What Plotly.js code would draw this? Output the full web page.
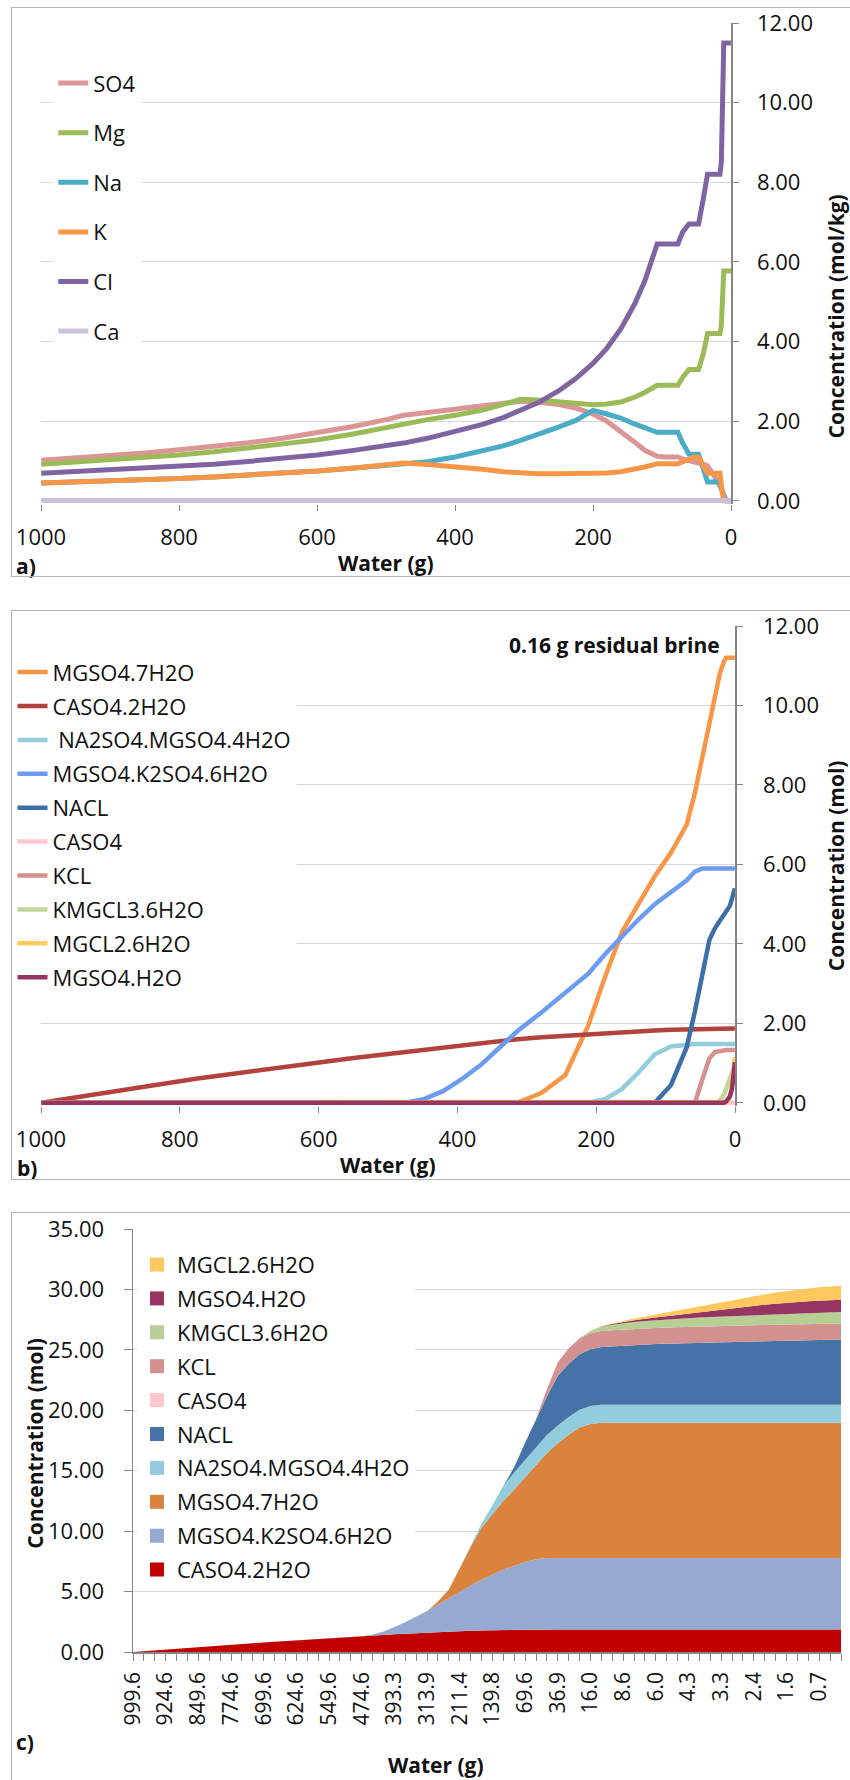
<!DOCTYPE html>
<html><head><meta charset="utf-8">
<script src="https://cdn.plot.ly/plotly-3.0.1.min.js"></script>
<style>
html,body{margin:0;padding:0;background:#fff;overflow:hidden;width:850px;height:1780px;position:relative}
.box{position:absolute;border:1px solid #b4b4b4;box-sizing:border-box;pointer-events:none;background:transparent}
.pl{position:absolute;left:0}
</style></head><body>
<div id="pa" class="pl" style="top:0"></div>
<div id="pb" class="pl" style="top:600px"></div>
<div id="pc" class="pl" style="top:1200px"></div>
<div class="box" style="left:11px;top:7px;width:900px;height:570px"></div>
<div class="box" style="left:11px;top:610px;width:900px;height:570px"></div>
<div class="box" style="left:11px;top:1212px;width:900px;height:700px"></div>
<script>
// ---------- Panel a data: concentration (mol/kg) vs water (g) ----------
const waterA = [999.6,949.6,899.6,849.6,799.6,749.6,699.6,649.6,599.6,549.6,499.6,474.6,
  440,400,360,330,305,280,250,225,200,
  180,160,140,125,107,95,77,
  70,61,54,47,40,34,25,
  16,14,10.5,7,4,2,0.16];
const so4A = [1.02,1.07,1.13,1.2,1.28,1.36,1.46,1.57,1.7,1.86,2.04,2.15,
  2.22,2.3,2.38,2.45,2.5,2.48,2.42,2.33,2.18,
  2.0,1.75,1.48,1.27,1.12,1.1,1.1,
  1.05,1.0,0.97,0.95,0.92,0.88,0.65,
  0.4,0.3,0.08,0,0,0,0];
const mgA = [0.92,0.97,1.02,1.08,1.15,1.23,1.32,1.42,1.53,1.67,1.84,1.94,
  2.04,2.15,2.28,2.42,2.55,2.53,2.49,2.45,2.41,
  2.43,2.48,2.6,2.72,2.9,2.9,2.9,
  3.1,3.3,3.3,3.3,3.7,4.2,4.2,
  4.2,4.4,5.77,5.77,5.77,5.77,5.77];
const naA = [0.45,0.47,0.5,0.53,0.56,0.6,0.64,0.69,0.75,0.82,0.9,0.95,
  0.98,1.1,1.25,1.38,1.52,1.66,1.85,2.02,2.27,
  2.18,2.08,1.93,1.82,1.72,1.72,1.72,
  1.45,1.17,1.17,1.17,0.8,0.47,0.47,
  0.47,0.3,0.1,0,0,0,0];
const kA = [0.45,0.47,0.5,0.53,0.56,0.6,0.64,0.69,0.75,0.82,0.9,0.95,
  0.91,0.86,0.79,0.73,0.69,0.68,0.68,0.68,0.68,
  0.7,0.73,0.79,0.85,0.93,0.93,0.93,
  0.98,1.06,1.09,1.1,0.9,0.69,0.69,
  0.69,0.4,0,0,0,0,0];
const clA = [0.69,0.73,0.77,0.81,0.86,0.92,0.99,1.06,1.15,1.26,1.38,1.45,
  1.57,1.73,1.92,2.09,2.26,2.46,2.76,3.07,3.45,
  3.83,4.31,4.93,5.52,6.45,6.45,6.45,
  6.75,6.95,6.95,6.95,7.6,8.2,8.2,
  8.2,8.5,11.5,11.5,11.5,11.5,11.5];
const caA = [0.01,0.01,0.01,0.01,0.01,0.01,0.01,0.01,0.01,0.01,0.01,0.01,
  0.01,0.01,0.01,0.01,0.01,0.01,0.01,0.01,0.01,
  0.01,0.01,0.01,0.01,0.01,0.01,0.01,
  0.01,0.01,0.01,0.01,0.01,0.01,0.01,
  0.01,0.01,0.01,0.01,0.01,0.01,0.01];
const ionNames = ['SO4','Mg','Na','K','Cl','Ca'];
const ionColors = ['#D99694','#9BBB59','#4BACC6','#F79646','#8064A2','#CCC1DA'];

// ---------- Panels b & c data: precipitated minerals (mol) vs water (g) ----------
const waterC = [999.6,974.6,949.6,924.6,899.6,874.6,849.6,824.6,799.6,774.6,
  749.6,724.6,699.6,674.6,649.6,624.6,599.6,574.6,549.6,524.6,
  499.6,474.6,447.3,420.2,393.3,366.5,340.0,313.9,278.6,244.5,
  211.4,186.7,162.8,139.8,115.6,92.2,69.6,57.8,46.9,36.9,
  28.8,21.9,16.0,12.9,10.4,8.6,7.7,6.8,6.0,5.4,
  4.8,4.3,3.9,3.6,3.3,3.0,2.7,2.4,2.1,1.8,
  1.6,1.3,1.0,0.7,0.4,0.16];
const caso4_2h2o = [0,0.07,0.14,0.21,0.28,0.35,0.42,0.49,0.55,0.61,
  0.67,0.73,0.79,0.85,0.91,0.97,1.03,1.08,1.13,1.18,
  1.23,1.28,1.34,1.40,1.46,1.51,1.56,1.60,1.65,1.69,
  1.73,1.76,1.78,1.80,1.82,1.84,1.85,1.86,1.87,1.87,
  1.87,1.87,1.87,1.87,1.87,1.87,1.87,1.87,1.87,1.87,
  1.87,1.87,1.87,1.87,1.87,1.87,1.87,1.87,1.87,1.87,
  1.87,1.87,1.87,1.87,1.87,1.87];
const mgso4_k2so4_6h2o = [0,0,0,0,0,0,0,0,0,0,
  0,0,0,0,0,0,0,0,0,0,
  0,0,0.1,0.3,0.6,0.95,1.38,1.8,2.28,2.78,
  3.25,3.75,4.2,4.6,5.0,5.3,5.6,5.82,5.9,5.9,
  5.9,5.9,5.9,5.9,5.9,5.9,5.9,5.9,5.9,5.9,
  5.9,5.9,5.9,5.9,5.9,5.9,5.9,5.9,5.9,5.9,
  5.9,5.9,5.9,5.9,5.9,5.9];
const mgso4_7h2o = [0,0,0,0,0,0,0,0,0,0,
  0,0,0,0,0,0,0,0,0,0,
  0,0,0,0,0,0,0,0,0.25,0.7,
  1.95,3.2,4.3,5.0,5.7,6.3,7.0,7.8,8.7,9.5,
  10.2,10.8,11.1,11.2,11.2,11.2,11.2,11.2,11.2,11.2,
  11.2,11.2,11.2,11.2,11.2,11.2,11.2,11.2,11.2,11.2,
  11.2,11.2,11.2,11.2,11.2,11.2];
const na2so4_mgso4_4h2o = [0,0,0,0,0,0,0,0,0,0,
  0,0,0,0,0,0,0,0,0,0,
  0,0,0,0,0,0,0,0,0,0,
  0,0.1,0.35,0.75,1.22,1.42,1.47,1.48,1.48,1.48,
  1.48,1.48,1.48,1.48,1.48,1.48,1.48,1.48,1.48,1.48,
  1.48,1.48,1.48,1.48,1.48,1.48,1.48,1.48,1.48,1.48,
  1.48,1.48,1.48,1.48,1.48,1.48];
const nacl = [0,0,0,0,0,0,0,0,0,0,
  0,0,0,0,0,0,0,0,0,0,
  0,0,0,0,0,0,0,0,0,0,
  0,0,0,0,0,0.45,1.4,2.3,3.2,4.1,
  4.4,4.58,4.7,4.78,4.84,4.9,4.95,4.99,5.03,5.06,
  5.09,5.12,5.15,5.17,5.19,5.21,5.23,5.25,5.27,5.29,
  5.31,5.33,5.35,5.37,5.39,5.4];
const caso4 = [0,0,0,0,0,0,0,0,0,0,
  0,0,0,0,0,0,0,0,0,0,
  0,0,0,0,0,0,0,0,0,0,
  0,0,0,0,0,0,0,0,0,0,
  0,0,0,0,0,0,0,0,0,0,
  0,0,0,0,0,0,0,0,0,0,
  0,0,0,0,0,0];
const kcl = [0,0,0,0,0,0,0,0,0,0,
  0,0,0,0,0,0,0,0,0,0,
  0,0,0,0,0,0,0,0,0,0,
  0,0,0,0,0,0,0,0,0.6,1.12,
  1.28,1.31,1.32,1.33,1.33,1.33,1.33,1.33,1.33,1.33,
  1.33,1.33,1.33,1.33,1.33,1.33,1.33,1.33,1.33,1.33,
  1.33,1.33,1.33,1.33,1.33,1.33];
const kmgcl3_6h2o = [0,0,0,0,0,0,0,0,0,0,
  0,0,0,0,0,0,0,0,0,0,
  0,0,0,0,0,0,0,0,0,0,
  0,0,0,0,0,0,0,0,0,0,
  0,0.05,0.2,0.35,0.45,0.52,0.57,0.61,0.64,0.67,
  0.7,0.72,0.74,0.76,0.78,0.8,0.82,0.84,0.86,0.88,
  0.9,0.91,0.92,0.93,0.94,0.95];
const mgso4_h2o = [0,0,0,0,0,0,0,0,0,0,
  0,0,0,0,0,0,0,0,0,0,
  0,0,0,0,0,0,0,0,0,0,
  0,0,0,0,0,0,0,0,0,0,
  0,0,0,0.03,0.07,0.11,0.15,0.19,0.23,0.27,
  0.31,0.35,0.42,0.48,0.54,0.6,0.68,0.76,0.82,0.87,
  0.91,0.94,0.97,0.99,1.01,1.02];
const mgcl2_6h2o = [0,0,0,0,0,0,0,0,0,0,
  0,0,0,0,0,0,0,0,0,0,
  0,0,0,0,0,0,0,0,0,0,
  0,0,0,0,0,0,0,0,0,0,
  0,0,0,0.02,0.05,0.1,0.15,0.2,0.26,0.32,
  0.38,0.44,0.5,0.56,0.62,0.68,0.74,0.8,0.86,0.92,
  0.97,1.02,1.06,1.1,1.13,1.15];

// legend order of panel b (also drawing order)
const mineralsB = [
  {name:'MGSO4.7H2O', y:mgso4_7h2o, color:'#F79646'},
  {name:'CASO4.2H2O', y:caso4_2h2o, color:'#B3423E'},
  {name:'\u00a0NA2SO4.MGSO4.4H2O', y:na2so4_mgso4_4h2o, color:'#93CDDD'},
  {name:'MGSO4.K2SO4.6H2O', y:mgso4_k2so4_6h2o, color:'#6B9CF2'},
  {name:'NACL', y:nacl, color:'#3C6EA8'},
  {name:'CASO4', y:caso4, color:'#FFC7CE'},
  {name:'KCL', y:kcl, color:'#D6908D'},
  {name:'KMGCL3.6H2O', y:kmgcl3_6h2o, color:'#C3D69B'},
  {name:'MGCL2.6H2O', y:mgcl2_6h2o, color:'#FFCB5F'},
  {name:'MGSO4.H2O', y:mgso4_h2o, color:'#963462'}
];
// stacking order of panel c (bottom to top)
const mineralsC = [
  {name:'CASO4.2H2O', y:caso4_2h2o, color:'#C00000'},
  {name:'MGSO4.K2SO4.6H2O', y:mgso4_k2so4_6h2o, color:'#95A9D1'},
  {name:'MGSO4.7H2O', y:mgso4_7h2o, color:'#DA833E'},
  {name:'NA2SO4.MGSO4.4H2O', y:na2so4_mgso4_4h2o, color:'#93CDDD'},
  {name:'NACL', y:nacl, color:'#4573A7'},
  {name:'CASO4', y:caso4, color:'#FFC7CE'},
  {name:'KCL', y:kcl, color:'#D3928F'},
  {name:'KMGCL3.6H2O', y:kmgcl3_6h2o, color:'#B7CE95'},
  {name:'MGSO4.H2O', y:mgso4_h2o, color:'#963462'},
  {name:'MGCL2.6H2O', y:mgcl2_6h2o, color:'#FFC85F'}
];
const xTicksAB = [1000,800,600,400,200,0];
const yTicksAB = [0,2,4,6,8,10,12];
const yTicksC = [0,5,10,15,20,25,30,35];

// ---------- helpers ----------
const FONT = '"Open Sans", "Noto Sans", "DejaVu Sans", sans-serif';
const GRID = '#d9d9d9', AXIS = '#868686', TXT = '#111111';
function frame(W,H,x0,x1,yTop,yBot){ return {l:x0, r:W-x1, t:yTop, b:H-yBot, autoexpand:false, pad:0}; }
function P(m,W,H,px,py){ return {x:(px-m.l)/(W-m.l-m.r), y:1-(py-m.t)/(H-m.t-m.b)}; }
function ann(m,W,H,px,py,text,o){
  const p = P(m,W,H,px,py);
  return Object.assign({xref:'paper',yref:'paper',x:p.x,y:p.y,text:text,showarrow:false,
    xanchor:'center',yanchor:'middle',font:{family:FONT,size:21,color:TXT}}, o||{});
}
const cfg = {staticPlot:true, displayModeBar:false};

// ---------- Panel a ----------
(function(){
  const W=850,H=590;
  const m = frame(W,H,40.7,730.7,22.7,504.0);
  const ys = [so4A,mgA,naA,kA,clA,caA];
  const traces = ys.map((y,i)=>({type:'scatter',mode:'lines',x:waterA,y:y,name:ionNames[i],
    legendgroup:'a'+i,line:{color:ionColors[i],width:5}}));
  const lp = P(m,W,H,53,62);
  const layout = {
    width:W,height:H,margin:m,paper_bgcolor:'rgba(0,0,0,0)',plot_bgcolor:'rgba(0,0,0,0)',
    font:{family:FONT,size:22,color:TXT},hovermode:false,showlegend:true,
    legend:{x:lp.x,y:lp.y,xanchor:'left',yanchor:'top',bgcolor:'#ffffff',borderwidth:0,
      font:{family:FONT,size:22,color:TXT},tracegroupgap:18,itemwidth:30},
    xaxis:{range:[1000,0],tickmode:'array',tickvals:xTicksAB,ticks:'outside',ticklen:6,tickcolor:AXIS,
      showgrid:false,zeroline:false,showline:false,ticklabelstandoff:8,tickfont:{size:22}},
    yaxis:{range:[-0.08,12],side:'right',tickmode:'array',tickvals:yTicksAB,tickformat:'.2f',ticks:'outside',
      ticklen:6,tickcolor:AXIS,showline:true,linecolor:AXIS,linewidth:1.5,gridcolor:GRID,gridwidth:1,
      zeroline:true,zerolinecolor:AXIS,zerolinewidth:1,ticklabelstandoff:14,tickfont:{size:22}},
    annotations:[
      ann(m,W,H,836,316,'<b>Concentration (mol/kg)</b>',{textangle:-90}),
      ann(m,W,H,386,563,'<b>Water (g)</b>'),
      ann(m,W,H,14,566,'<b>a)</b>',{xanchor:'left'})
    ]
  };
  Plotly.newPlot('pa',traces,layout,cfg);
})();

// ---------- Panel b ----------
(function(){
  const W=850,H=590;
  const m = frame(W,H,40.5,735,25.7,505.9);
  const traces = mineralsB.map((s,i)=>({type:'scatter',mode:'lines',x:waterC,y:s.y,name:s.name,
    legendgroup:'b'+i,line:{color:s.color,width:4.5}}));
  const lp = P(m,W,H,12,51);
  const layout = {
    width:W,height:H,margin:m,paper_bgcolor:'rgba(0,0,0,0)',plot_bgcolor:'rgba(0,0,0,0)',
    font:{family:FONT,size:22,color:TXT},hovermode:false,showlegend:true,
    legend:{x:lp.x,y:lp.y,xanchor:'left',yanchor:'top',bgcolor:'#ffffff',borderwidth:0,
      font:{family:FONT,size:22,color:TXT},tracegroupgap:2.3,itemwidth:30},
    xaxis:{range:[1000,0],tickmode:'array',tickvals:xTicksAB,ticks:'outside',ticklen:6,tickcolor:AXIS,
      showgrid:false,zeroline:false,showline:false,ticklabelstandoff:8,tickfont:{size:22}},
    yaxis:{range:[-0.08,12],side:'right',tickmode:'array',tickvals:yTicksAB,tickformat:'.2f',ticks:'outside',
      ticklen:6,tickcolor:AXIS,showline:true,linecolor:AXIS,linewidth:1.5,gridcolor:GRID,gridwidth:1,
      zeroline:true,zerolinecolor:AXIS,zerolinewidth:1,ticklabelstandoff:16,tickfont:{size:22}},
    annotations:[
      ann(m,W,H,722,45,'<b>0.16 g residual brine</b>',{xanchor:'right'}),
      ann(m,W,H,836,265,'<b>Concentration (mol)</b>',{textangle:-90}),
      ann(m,W,H,388,565,'<b>Water (g)</b>'),
      ann(m,W,H,14,568,'<b>b)</b>',{xanchor:'left'})
    ]
  };
  Plotly.newPlot('pb',traces,layout,cfg);
})();

// ---------- Panel c ----------
(function(){
  const W=850,H=580;
  const m = frame(W,H,133,840.7,29.3,452.3);
  const idx = waterC.map((w,i)=>i);
  const tickText = waterC.map((w,i)=> i%3===0 ? w.toFixed(1) : '');
  const areas = mineralsC.map((s,i)=>({type:'scatter',mode:'lines',x:idx,y:s.y,name:s.name,
    stackgroup:'one',line:{width:0,color:s.color},fillcolor:s.color,showlegend:false}));
  // legend entries (top to bottom = reverse of stacking)
  const legendEntries = mineralsC.slice().reverse().map((s,i)=>({type:'scatter',mode:'markers',
    x:[null],y:[null],name:s.name,legendgroup:'c'+i,showlegend:true,
    marker:{symbol:'square',size:14,color:s.color}}));
  const lp = P(m,W,H,137,44);
  const layout = {
    width:W,height:H,margin:m,paper_bgcolor:'rgba(0,0,0,0)',plot_bgcolor:'rgba(0,0,0,0)',
    font:{family:FONT,size:22,color:TXT},hovermode:false,showlegend:true,
    legend:{x:lp.x,y:lp.y,xanchor:'left',yanchor:'top',bgcolor:'#ffffff',borderwidth:0,
      font:{family:FONT,size:22,color:TXT},tracegroupgap:2.3,itemwidth:30},
    xaxis:{range:[0,idx.length-1],tickmode:'array',tickvals:idx,ticktext:tickText,tickangle:-90,
      ticks:'outside',ticklen:7,tickcolor:AXIS,showgrid:false,zeroline:false,showline:true,linecolor:AXIS,
      linewidth:1.5,ticklabelstandoff:3,tickfont:{size:21}},
    yaxis:{range:[0,35],tickmode:'array',tickvals:yTicksC,tickformat:'.2f',ticks:'outside',ticklen:8,
      tickcolor:AXIS,showline:true,linecolor:AXIS,linewidth:1.5,gridcolor:GRID,gridwidth:1,zeroline:false,
      ticklabelstandoff:15,tickfont:{size:22}},
    annotations:[
      ann(m,W,H,35,243,'<b>Concentration (mol)</b>',{textangle:-90}),
      ann(m,W,H,436,565,'<b>Water (g)</b>'),
      ann(m,W,H,14,542,'<b>c)</b>',{xanchor:'left'})
    ]
  };
  Plotly.newPlot('pc',areas.concat(legendEntries),layout,cfg);
})();
</script>
</body></html>
